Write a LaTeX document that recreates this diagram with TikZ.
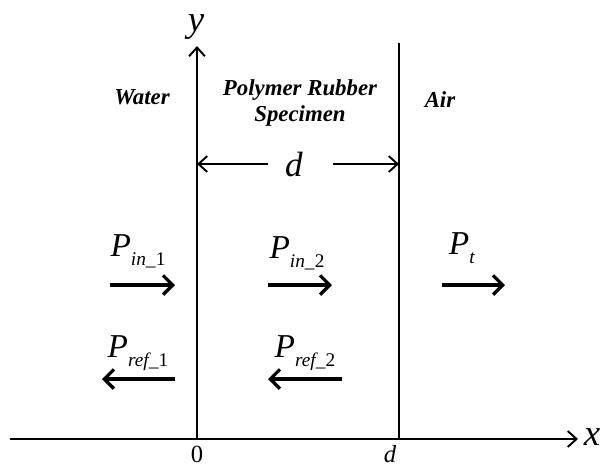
\documentclass[tikz,border=0pt]{standalone}
\usepackage{fontspec}
\setmainfont{Liberation Serif}
\usepackage{tikz}
\usetikzlibrary{positioning,arrows.meta}
\newcommand{\psub}[2]{\textit{#1}\raisebox{-5pt}{\fontsize{11}{12}\selectfont #2}}

\begin{document}
\begin{tikzpicture}[
    x=0.02cm, y=-0.02cm,
    axis/.style={line width=1.1pt, -{Straight Barb[length=5pt, width=9pt]}},
    wall/.style={line width=1.1pt},
    dim/.style={line width=1.1pt, -{Straight Barb[length=5pt, width=9pt]}},
    wave/.style={line width=1.9pt, -{Straight Barb[length=5.5pt, width=11pt]}},
    medium/.style={font=\fontsize{13}{15}\selectfont\bfseries\itshape, align=center},
    plabel/.style={font=\fontsize{19}{21}\selectfont, inner sep=1pt},
    axlabel/.style={font=\fontsize{21}{23}\selectfont\itshape, inner sep=0pt},
    tick/.style={font=\fontsize{14}{15}\selectfont, inner sep=0pt},
]
\useasboundingbox (0,0) rectangle (600,468);

% axes and the two boundaries
\coordinate (o) at (197,439);
\coordinate (xa) at (10,439);
\coordinate (xb) at (578,439);
\coordinate (ytop) at (197,46);
\coordinate (wbot) at (399,439);
\coordinate (wtop) at (399,43);
\draw[axis] (xa) -- (xb);
\draw[axis] (o) -- (ytop);
\draw[wall] (wbot) -- (wtop);

\node[axlabel] (xlab) at (592,437) {x};
\node[axlabel] (ylab) at (196,27) {y};
\node[tick] (zero) at (197,454) {0};
\node[tick, font=\fontsize{14}{15}\selectfont\itshape] (dtick) at (390,454) {d};

% media
\node[medium] (water) at (142,97) {Water};
\node[medium] (rubber) at (300,103) {Polymer Rubber\\Specimen};
\node[medium] (air) at (440,100) {Air};

% thickness
\node[axlabel, font=\fontsize{20}{22}\selectfont\itshape] (dlab) at (294,164) {d};
\coordinate (dl) at (197,164);
\coordinate (dr) at (399,164);
\coordinate (dgl) at (268,164);
\coordinate (dgr) at (333,164);
\draw[dim] (dgl) -- (dl);
\draw[dim] (dgr) -- (dr);

% incident and transmitted waves
\coordinate (in1a) at (110,285);
\coordinate (in1b) at (175,285);
\coordinate (in2a) at (268,285);
\coordinate (in2b) at (332,285);
\coordinate (pta) at (442,285);
\coordinate (ptb) at (505,285);
\draw[wave] (in1a) -- (in1b);
\draw[wave] (in2a) -- (in2b);
\draw[wave] (pta) -- (ptb);
\node[plabel] (pin1) at (138,251) {\psub{P}{\textit{in\_}1}};
\node[plabel] (pin2) at (297,253) {\psub{P}{\textit{in\_}2}};
\node[plabel] (pt) at (462,248) {\psub{P}{\textit{t}}};

% reflected waves
\coordinate (ref1a) at (175,379);
\coordinate (ref1b) at (102,379);
\coordinate (ref2a) at (342,379);
\coordinate (ref2b) at (268,379);
\draw[wave] (ref1a) -- (ref1b);
\draw[wave] (ref2a) -- (ref2b);
\node[plabel] (pref1) at (138,353) {\psub{P}{\textit{ref\_}1}};
\node[plabel] (pref2) at (305,353) {\psub{P}{\textit{ref\_}2}};
\end{tikzpicture}
\end{document}
